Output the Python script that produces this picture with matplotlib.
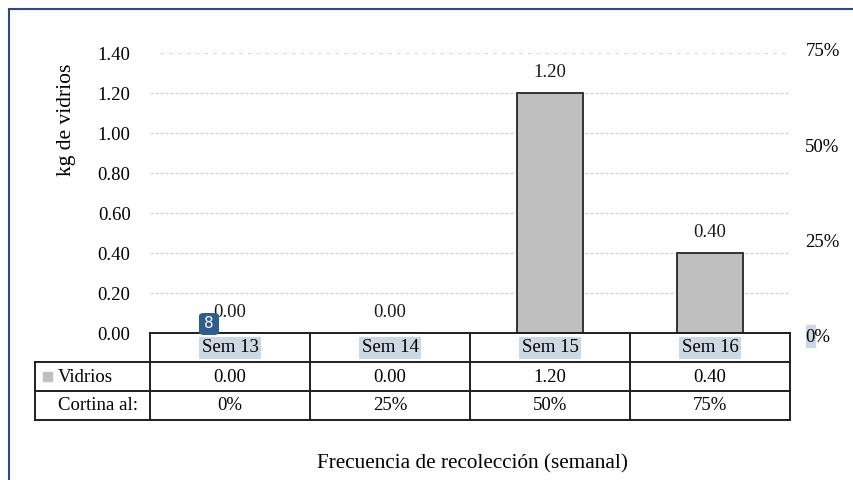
import matplotlib
matplotlib.use("Agg")
import matplotlib.pyplot as plt
from matplotlib.patches import Rectangle, FancyBboxPatch
from matplotlib.lines import Line2D

categories = ["Sem 13", "Sem 14", "Sem 15", "Sem 16"]
vidrios = [0.00, 0.00, 1.20, 0.40]
cortina = ["0%", "25%", "50%", "75%"]
yticks = [0.0, 0.2, 0.4, 0.6, 0.8, 1.0, 1.2, 1.4]
rticks = [0.0, 0.25, 0.5, 0.75]
rtick_labels = ["0%", "25%", "50%", "75%"]

W, H = 854, 480
plt.rcParams['font.family'] = ['Liberation Serif', 'DejaVu Serif']

fig = plt.figure(figsize=(W / 100, H / 100), dpi=100)

def fx(x):
    return x / W

def fy(y):
    return 1 - y / H

# axes area in pixels
L, R, T, B = 150, 790, 53, 333
ax = fig.add_axes([fx(L), fy(B), fx(R) - fx(L), fy(T) - fy(B)])
ax.set_xlim(-0.5, len(categories) - 0.5)
for s in ax.spines.values():
    s.set_visible(False)

x = list(range(len(categories)))
ax.bar(x, vidrios, width=0.41, color="#BFBFBF", edgecolor="#262626", linewidth=1.3, zorder=3)

for yt in yticks[1:]:
    if yt == 1.4:
        ax.axhline(yt, xmin=0.016, xmax=0.995, color="#D9D9D9", lw=0.9, ls=(0, (3, 4)), zorder=1)
    else:
        ax.axhline(yt, color="#D0D0D0", lw=0.9, ls=(0, (2.5, 1.5)), zorder=1)

ax.set_yticks(yticks)
ax.set_yticklabels([f"{v:.2f}" for v in yticks], fontsize=13.5)
ax.set_ylim(0, 1.4)
ax.tick_params(axis='y', length=0, pad=14)
ax.set_xticks([])

for xi, v in zip(x, vidrios):
    ax.annotate(f"{v:.2f}", (xi, v), xytext=(0, 14.5), textcoords="offset points",
                ha="center", va="center", fontsize=13.5, color="#1a1a1a", zorder=4)

# secondary (percentage) axis, slightly taller scale like the reference
ax2 = fig.add_axes([fx(L), fy(336), fx(R) - fx(L), fy(50) - fy(336)])
ax2.patch.set_visible(False)
for s in ax2.spines.values():
    s.set_visible(False)
ax2.set_xticks([])
ax2.yaxis.tick_right()
ax2.set_yticks(rticks)
ax2.set_yticklabels(rtick_labels, fontsize=13.5)
ax2.set_ylim(0, 0.75)
ax2.tick_params(axis='y', length=0, pad=11)

# y label
fig.text(fx(66), fy(120), "kg de vidrios", rotation=90, ha="center", va="center", fontsize=15.5)

# x label
fig.text(fx(472), fy(464), "Frecuencia de recolección (semanal)", ha="center", va="center", fontsize=15.3)

# table
lc = "#1f1f1f"
lw = 1.4
col_x = [L + i * (R - L) / len(categories) for i in range(len(categories) + 1)]
rows = [333, 362, 391, 420]
def hline(y, x0, x1):
    fig.add_artist(Line2D([fx(x0), fx(x1)], [fy(y), fy(y)], color=lc, lw=lw))
def vline(x0, y0, y1):
    fig.add_artist(Line2D([fx(x0), fx(x0)], [fy(y0), fy(y1)], color=lc, lw=lw))

hline(rows[0], L, R)
for y in rows[1:]:
    hline(y, 35, R)
for cx in col_x:
    vline(cx, rows[0], rows[3])
vline(35, rows[1], rows[3])

for i, c in enumerate(categories):
    cxm = (col_x[i] + col_x[i + 1]) / 2
    fig.text(fx(cxm), fy(348), c, ha="center", va="center", fontsize=13.5,
             bbox=dict(boxstyle="square,pad=0.12", fc="#CCD9E4", ec="none"))
    fig.text(fx(cxm), fy(377), f"{vidrios[i]:.2f}", ha="center", va="center", fontsize=13.5)
    fig.text(fx(cxm), fy(406), cortina[i], ha="center", va="center", fontsize=13.5)

fig.add_artist(Rectangle((fx(43), fy(381)), fx(9), 9 / H, color="#BFBFBF"))
fig.text(fx(58), fy(377), "Vidrios", ha="left", va="center", fontsize=13.5)
fig.text(fx(58), fy(406), "Cortina al:", ha="left", va="center", fontsize=13.5)

# highlight on right 0%
fig.add_artist(Rectangle((fx(806), fy(347)), fx(9), 22 / H, color="#CCD9E4", zorder=0))

# badge
fig.add_artist(FancyBboxPatch((fx(199), fy(335)), fx(20), 22 / H,
                              boxstyle="round,pad=0,rounding_size=0.006",
                              fc="#2F5E8C", ec="none", zorder=5))
fig.text(fx(209), fy(324), "8", ha="center", va="center", fontsize=11,
         color="white", family="DejaVu Sans", zorder=6)

# frame
fig.add_artist(Line2D([fx(9), fx(9)], [fy(9), 0], color="#2E4A7E", lw=1.5))
fig.add_artist(Line2D([fx(9), 1], [fy(9), fy(9)], color="#2E4A7E", lw=1.5))

fig.savefig("out.png", dpi=100)
